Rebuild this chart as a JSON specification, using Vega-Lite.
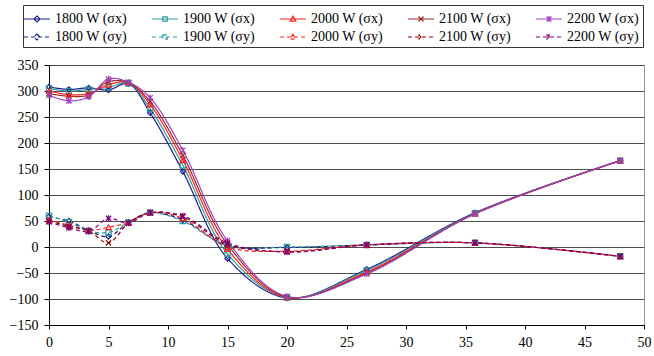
{
  "$schema": "https://vega.github.io/schema/vega-lite/v6.json",
  "width": 595,
  "height": 260,
  "autosize": {"type": "none"},
  "padding": {"left": 49, "top": 65, "right": 10, "bottom": 31},
  "background": "white",
  "config": {"view": {"stroke": "#999", "strokeWidth": 1}, "font": "Liberation Serif"},
  "datasets": {
    "pts": [
      {"x":0,"y":308,"series":"1800 W (σx)","w":"1800"},{"x":1.67,"y":303,"series":"1800 W (σx)","w":"1800"},{"x":3.33,"y":306,"series":"1800 W (σx)","w":"1800"},{"x":5,"y":302,"series":"1800 W (σx)","w":"1800"},{"x":6.67,"y":314,"series":"1800 W (σx)","w":"1800"},{"x":8.5,"y":258,"series":"1800 W (σx)","w":"1800"},{"x":11.25,"y":145,"series":"1800 W (σx)","w":"1800"},{"x":15,"y":-22,"series":"1800 W (σx)","w":"1800"},{"x":20,"y":-98,"series":"1800 W (σx)","w":"1800"},{"x":26.7,"y":-43,"series":"1800 W (σx)","w":"1800"},{"x":35.8,"y":66,"series":"1800 W (σx)","w":"1800"},{"x":48,"y":166,"series":"1800 W (σx)","w":"1800"},
      {"x":0,"y":305,"series":"1900 W (σx)","w":"1900"},{"x":1.67,"y":300,"series":"1900 W (σx)","w":"1900"},{"x":3.33,"y":303,"series":"1900 W (σx)","w":"1900"},{"x":5,"y":307,"series":"1900 W (σx)","w":"1900"},{"x":6.67,"y":315,"series":"1900 W (σx)","w":"1900"},{"x":8.5,"y":266,"series":"1900 W (σx)","w":"1900"},{"x":11.25,"y":157,"series":"1900 W (σx)","w":"1900"},{"x":15,"y":-13,"series":"1900 W (σx)","w":"1900"},{"x":20,"y":-97,"series":"1900 W (σx)","w":"1900"},{"x":26.7,"y":-45,"series":"1900 W (σx)","w":"1900"},{"x":35.8,"y":65,"series":"1900 W (σx)","w":"1900"},{"x":48,"y":166,"series":"1900 W (σx)","w":"1900"},
      {"x":0,"y":300,"series":"2000 W (σx)","w":"2000"},{"x":1.67,"y":293,"series":"2000 W (σx)","w":"2000"},{"x":3.33,"y":295,"series":"2000 W (σx)","w":"2000"},{"x":5,"y":312,"series":"2000 W (σx)","w":"2000"},{"x":6.67,"y":316,"series":"2000 W (σx)","w":"2000"},{"x":8.5,"y":274,"series":"2000 W (σx)","w":"2000"},{"x":11.25,"y":167,"series":"2000 W (σx)","w":"2000"},{"x":15,"y":-4,"series":"2000 W (σx)","w":"2000"},{"x":20,"y":-97,"series":"2000 W (σx)","w":"2000"},{"x":26.7,"y":-48,"series":"2000 W (σx)","w":"2000"},{"x":35.8,"y":64,"series":"2000 W (σx)","w":"2000"},{"x":48,"y":166,"series":"2000 W (σx)","w":"2000"},
      {"x":0,"y":295,"series":"2100 W (σx)","w":"2100"},{"x":1.67,"y":290,"series":"2100 W (σx)","w":"2100"},{"x":3.33,"y":292,"series":"2100 W (σx)","w":"2100"},{"x":5,"y":318,"series":"2100 W (σx)","w":"2100"},{"x":6.67,"y":316,"series":"2100 W (σx)","w":"2100"},{"x":8.5,"y":280,"series":"2100 W (σx)","w":"2100"},{"x":11.25,"y":176,"series":"2100 W (σx)","w":"2100"},{"x":15,"y":5,"series":"2100 W (σx)","w":"2100"},{"x":20,"y":-96,"series":"2100 W (σx)","w":"2100"},{"x":26.7,"y":-50,"series":"2100 W (σx)","w":"2100"},{"x":35.8,"y":64,"series":"2100 W (σx)","w":"2100"},{"x":48,"y":166,"series":"2100 W (σx)","w":"2100"},
      {"x":0,"y":292,"series":"2200 W (σx)","w":"2200"},{"x":1.67,"y":281,"series":"2200 W (σx)","w":"2200"},{"x":3.33,"y":289,"series":"2200 W (σx)","w":"2200"},{"x":5,"y":323,"series":"2200 W (σx)","w":"2200"},{"x":6.67,"y":317,"series":"2200 W (σx)","w":"2200"},{"x":8.5,"y":287,"series":"2200 W (σx)","w":"2200"},{"x":11.25,"y":186,"series":"2200 W (σx)","w":"2200"},{"x":15,"y":12,"series":"2200 W (σx)","w":"2200"},{"x":20,"y":-95,"series":"2200 W (σx)","w":"2200"},{"x":26.7,"y":-52,"series":"2200 W (σx)","w":"2200"},{"x":35.8,"y":64,"series":"2200 W (σx)","w":"2200"},{"x":48,"y":166,"series":"2200 W (σx)","w":"2200"},
      {"x":0,"y":58,"series":"1800 W (σy)","w":"1800"},{"x":1.67,"y":50,"series":"1800 W (σy)","w":"1800"},{"x":3.33,"y":32,"series":"1800 W (σy)","w":"1800"},{"x":5,"y":20,"series":"1800 W (σy)","w":"1800"},{"x":6.67,"y":47,"series":"1800 W (σy)","w":"1800"},{"x":8.5,"y":66,"series":"1800 W (σy)","w":"1800"},{"x":11.25,"y":52,"series":"1800 W (σy)","w":"1800"},{"x":15,"y":3,"series":"1800 W (σy)","w":"1800"},{"x":20,"y":-1,"series":"1800 W (σy)","w":"1800"},{"x":26.7,"y":4,"series":"1800 W (σy)","w":"1800"},{"x":35.8,"y":8,"series":"1800 W (σy)","w":"1800"},{"x":48,"y":-18,"series":"1800 W (σy)","w":"1800"},
      {"x":0,"y":60,"series":"1900 W (σy)","w":"1900"},{"x":1.67,"y":48,"series":"1900 W (σy)","w":"1900"},{"x":3.33,"y":31,"series":"1900 W (σy)","w":"1900"},{"x":5,"y":28,"series":"1900 W (σy)","w":"1900"},{"x":6.67,"y":47,"series":"1900 W (σy)","w":"1900"},{"x":8.5,"y":66,"series":"1900 W (σy)","w":"1900"},{"x":11.25,"y":50,"series":"1900 W (σy)","w":"1900"},{"x":15,"y":2,"series":"1900 W (σy)","w":"1900"},{"x":20,"y":0,"series":"1900 W (σy)","w":"1900"},{"x":26.7,"y":4,"series":"1900 W (σy)","w":"1900"},{"x":35.8,"y":8,"series":"1900 W (σy)","w":"1900"},{"x":48,"y":-18,"series":"1900 W (σy)","w":"1900"},
      {"x":0,"y":52,"series":"2000 W (σy)","w":"2000"},{"x":1.67,"y":42,"series":"2000 W (σy)","w":"2000"},{"x":3.33,"y":32,"series":"2000 W (σy)","w":"2000"},{"x":5,"y":38,"series":"2000 W (σy)","w":"2000"},{"x":6.67,"y":47,"series":"2000 W (σy)","w":"2000"},{"x":8.5,"y":66,"series":"2000 W (σy)","w":"2000"},{"x":11.25,"y":55,"series":"2000 W (σy)","w":"2000"},{"x":15,"y":0,"series":"2000 W (σy)","w":"2000"},{"x":20,"y":-8,"series":"2000 W (σy)","w":"2000"},{"x":26.7,"y":4,"series":"2000 W (σy)","w":"2000"},{"x":35.8,"y":8,"series":"2000 W (σy)","w":"2000"},{"x":48,"y":-18,"series":"2000 W (σy)","w":"2000"},
      {"x":0,"y":50,"series":"2100 W (σy)","w":"2100"},{"x":1.67,"y":40,"series":"2100 W (σy)","w":"2100"},{"x":3.33,"y":31,"series":"2100 W (σy)","w":"2100"},{"x":5,"y":8,"series":"2100 W (σy)","w":"2100"},{"x":6.67,"y":46,"series":"2100 W (σy)","w":"2100"},{"x":8.5,"y":66,"series":"2100 W (σy)","w":"2100"},{"x":11.25,"y":58,"series":"2100 W (σy)","w":"2100"},{"x":15,"y":5,"series":"2100 W (σy)","w":"2100"},{"x":20,"y":-9,"series":"2100 W (σy)","w":"2100"},{"x":26.7,"y":4,"series":"2100 W (σy)","w":"2100"},{"x":35.8,"y":8,"series":"2100 W (σy)","w":"2100"},{"x":48,"y":-18,"series":"2100 W (σy)","w":"2100"},
      {"x":0,"y":48,"series":"2200 W (σy)","w":"2200"},{"x":1.67,"y":37,"series":"2200 W (σy)","w":"2200"},{"x":3.33,"y":30,"series":"2200 W (σy)","w":"2200"},{"x":5,"y":55,"series":"2200 W (σy)","w":"2200"},{"x":6.67,"y":46,"series":"2200 W (σy)","w":"2200"},{"x":8.5,"y":66,"series":"2200 W (σy)","w":"2200"},{"x":11.25,"y":60,"series":"2200 W (σy)","w":"2200"},{"x":15,"y":8,"series":"2200 W (σy)","w":"2200"},{"x":20,"y":-10,"series":"2200 W (σy)","w":"2200"},{"x":26.7,"y":4,"series":"2200 W (σy)","w":"2200"},{"x":35.8,"y":8,"series":"2200 W (σy)","w":"2200"},{"x":48,"y":-18,"series":"2200 W (σy)","w":"2200"}
    ]
  },
  "data": {"name": "pts"},
  "encoding": {
    "x": {
      "field": "x", "type": "quantitative",
      "scale": {"domain": [0, 50], "nice": false, "zero": false},
      "axis": {
        "title": null, "values": [0,5,10,15,20,25,30,35,40,45,50], "grid": false,
        "domainColor": "#000", "tickColor": "#000", "tickSize": 4,
        "labelFont": "Liberation Serif", "labelFontSize": 14, "labelColor": "#000", "labelPadding": 6,
        "labelFlush": false
      }
    },
    "y": {
      "field": "y", "type": "quantitative",
      "scale": {"domain": [-150, 350], "nice": false, "zero": false},
      "axis": {
        "title": null, "values": [-150,-100,-50,0,50,100,150,200,250,300,350], "grid": true,
        "gridColor": "#4d4d4d", "gridWidth": 1, "gridOpacity": 1,
        "domainColor": "#000", "tickColor": "#000", "tickSize": 5,
        "labelFont": "Liberation Serif", "labelFontSize": 14, "labelColor": "#000", "labelPadding": 6
      }
    }
  },
  "layer": [
    {
      "mark": {"type": "line", "interpolate": "catmull-rom", "strokeWidth": 1.2},
      "encoding": {
        "color": {
          "field": "series", "type": "nominal",
          "scale": {
            "domain": ["1800 W (σx)","1900 W (σx)","2000 W (σx)","2100 W (σx)","2200 W (σx)","1800 W (σy)","1900 W (σy)","2000 W (σy)","2100 W (σy)","2200 W (σy)"],
            "range": ["#1c1c8c","#2b9b9b","#ff2020","#a02828","#a040c0","#1c1c8c","#2b9b9b","#ff2020","#8b0000","#800080"]
          },
          "legend": {
            "title": null, "orient": "none", "legendX": -26, "legendY": -60,
            "columns": 5, "direction": "horizontal",
            "strokeColor": "#333", "padding": 3, "fillColor": "white",
            "labelFont": "Liberation Serif", "labelFontSize": 14, "labelColor": "#000", "labelOffset": 7,
            "symbolSize": 400, "columnPadding": 21, "rowPadding": 0, "labelLimit": 200,
            "encode": {
              "symbols": {
                "update": {
                  "shape": {"signal": "['M-1.3,0H1.3M0,-0.3L0.3,0L0,0.3L-0.3,0Z','M-1.3,0H1.3M-0.22,-0.22H0.22V0.22H-0.22Z','M-1.3,0H1.3M0,-0.28L0.28,0.22H-0.28Z','M-1.3,0H1.3M-0.25,-0.25L0.25,0.25M-0.25,0.25L0.25,-0.25','M-1.3,0H1.3M-0.25,-0.25L0.25,0.25M-0.25,0.25L0.25,-0.25M0,-0.3V0.3'][indexof(['1800','1900','2000','2100','2200'], slice(datum.value, 0, 4))]"},
                  "strokeWidth": {"value": 1.2}
                }
              }
            }
          }
        },
        "strokeDash": {
          "field": "series", "type": "nominal",
          "scale": {
            "domain": ["1800 W (σx)","1900 W (σx)","2000 W (σx)","2100 W (σx)","2200 W (σx)","1800 W (σy)","1900 W (σy)","2000 W (σy)","2100 W (σy)","2200 W (σy)"],
            "range": [[1,0],[1,0],[1,0],[1,0],[1,0],[4,3],[4,3],[4,3],[4,3],[4,3]]
          }
        }
      }
    },
    {
      "mark": {"type": "point", "filled": false, "strokeWidth": 1.2, "size": 28, "opacity": 1},
      "encoding": {
        "color": {"field": "series", "type": "nominal", "legend": null},
        "shape": {
          "field": "w", "type": "nominal", "legend": null,
          "scale": {
            "domain": ["1800","1900","2000","2100","2200"],
            "range": ["diamond","square","triangle-up","M-1,-1L1,1M-1,1L1,-1","M-1,-1L1,1M-1,1L1,-1M0,-1.2V1.2"]
          }
        }
      }
    }
  ]
}
